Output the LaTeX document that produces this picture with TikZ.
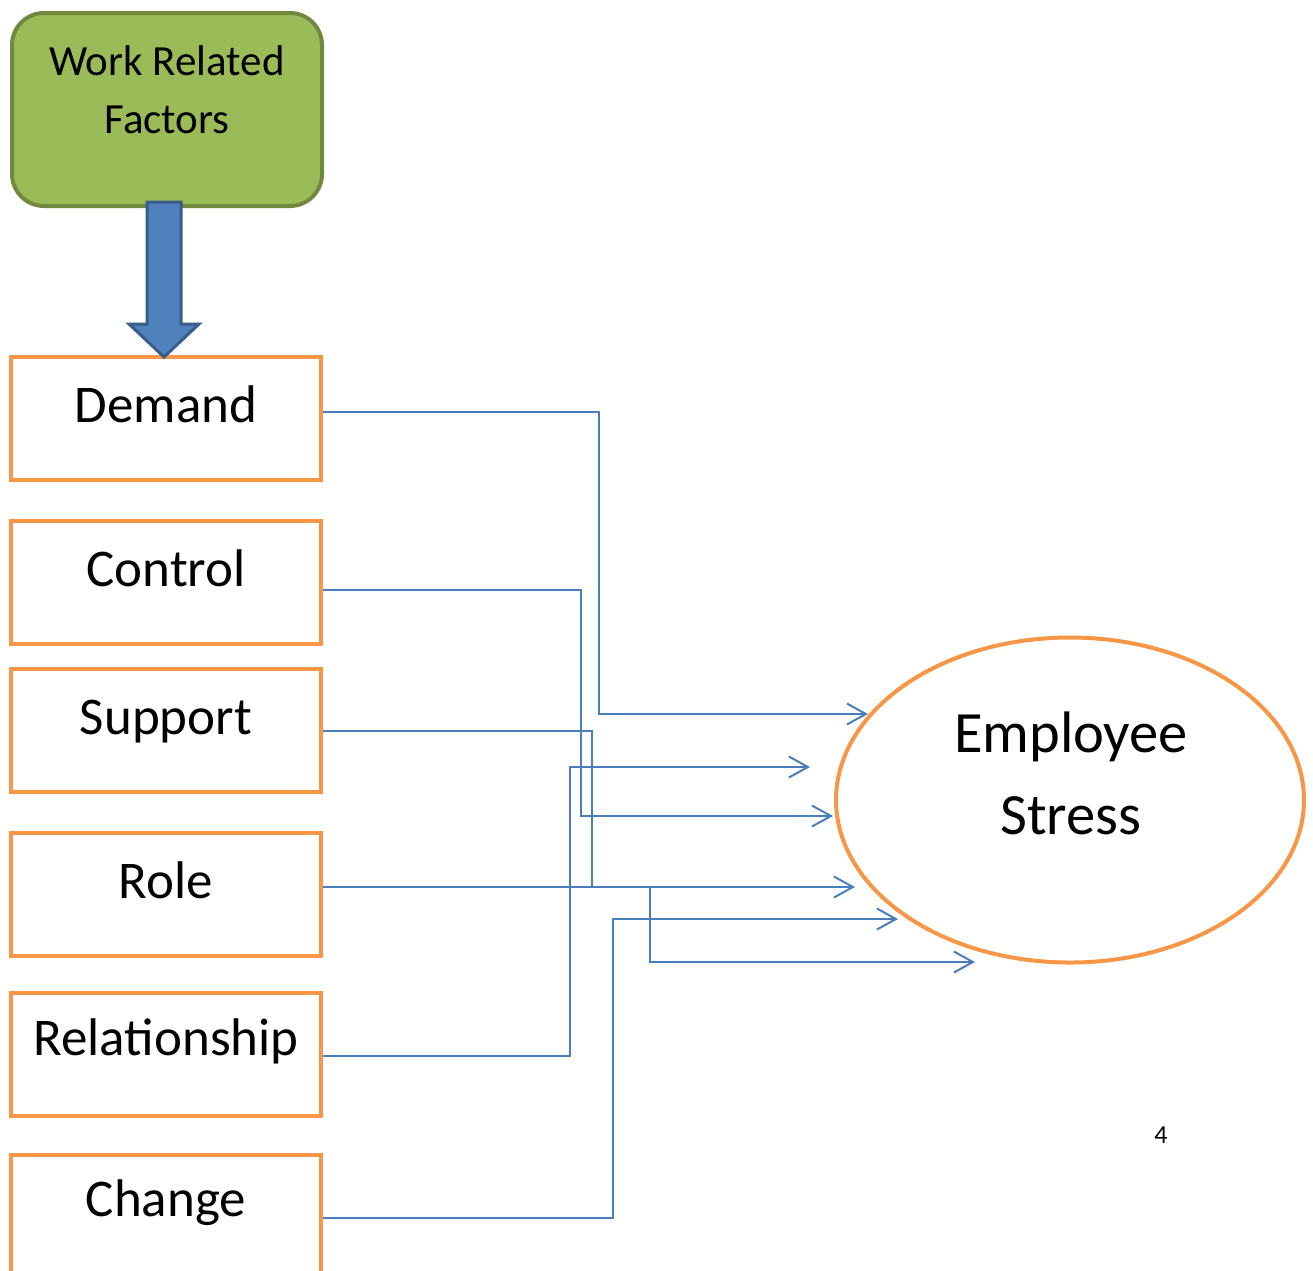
\documentclass[tikz,border=0pt]{standalone}
\usepackage{fontspec}
\setmainfont{Carlito}
\usetikzlibrary{arrows.meta,shapes.geometric}
\definecolor{boxorange}{HTML}{F79646}
\definecolor{linkblue}{HTML}{4A7EBB}
\definecolor{leafgreen}{HTML}{9BBB59}
\definecolor{leafedge}{HTML}{71893F}
\definecolor{arrowfill}{HTML}{4F81BD}
\definecolor{arrowedge}{HTML}{385D8A}
\begin{document}
\begin{tikzpicture}[x=1pt,y=-1pt,
  factorbox/.style={draw=boxorange, line width=4pt, fill=white, rectangle,
    minimum width=310pt, minimum height=123pt, inner sep=0pt},
  factortext/.style={anchor=base, inner sep=0pt, font=\fontsize{53}{64}\selectfont},
  headbox/.style={draw=leafedge, fill=leafgreen, line width=4pt, rectangle,
    rounded corners=32pt, minimum width=310pt, minimum height=193pt, inner sep=0pt},
  headtext/.style={anchor=base, inner sep=0pt, align=center,
    font=\fontsize{43}{58}\selectfont},
  outcome/.style={draw=boxorange, line width=4pt, ellipse,
    minimum width=468pt, minimum height=325pt, inner sep=0pt},
  outtext/.style={anchor=base, inner sep=0pt, align=center,
    font=\fontsize{58.5}{82}\selectfont},
  link/.style={draw=linkblue, line width=2pt,
    -{Straight Barb[length=19pt,width=21pt,line width=2pt]}},
  bigarrow/.style={draw=arrowedge, fill=arrowfill, line width=3pt, line join=miter}
]
\useasboundingbox (0,0) rectangle (1313,1270);

% source of the factors
\node[headbox] (wrf) at (167,109.5) {};
\node[headtext] (wrfT) at (167,133) {Work Related\\Factors};

% the six work related factors
\node[factorbox] (demand)  at (166,418.5)  {};
\node[factorbox] (control) at (166,582.5)  {};
\node[factorbox] (support) at (166,730.5)  {};
\node[factorbox] (role)    at (166,894.5)  {};
\node[factorbox] (relship) at (166,1054.5) {};
\node[factorbox] (change)  at (166,1216)   {};

\node[factortext] (demandT)  at (166,422)  {Demand};
\node[factortext] (controlT) at (166,586)  {Control};
\node[factortext] (supportT) at (166,734)  {Support};
\node[factortext] (roleT)    at (166,898)  {Role};
\node[factortext] (relshipT) at (166,1055) {Relationship};
\node[factortext] (changeT)  at (166,1216) {Change};

% block arrow from the heading box down to the first factor
\coordinate (tip) at ([xshift=-2pt,yshift=-2pt]demand.north);
\draw[bigarrow] (tip) -- ++(-35,-33) -- ++(18,0) -- ++(0,-122) -- ++(34,0)
  -- ++(0,122) -- ++(18,0) -- cycle;

% outcome
\node[outcome] (stress) at (1070,800) {};
\node[outtext] (stressT) at (1071,834) {Employee\\Stress};

\node[anchor=base, inner sep=0pt, font=\fontsize{26}{30}\selectfont] (pagenum) at (1161,1143) {4};

% arrow ends near the outcome
\coordinate (eDemand)  at (868,714);
\coordinate (eControl) at (833,816);
\coordinate (eSupport) at (975,962);
\coordinate (eRole)    at (855,887);
\coordinate (eRelship) at (810,767);
\coordinate (eChange)  at (898,919);

% connectors
\draw[link] ([yshift=6.5pt]demand.east) -- ++(276,0) |- (eDemand);
\draw[link] ([yshift=-7.5pt]control.east) -- ++(258,0) |- (eControl);
\draw[link] (support.east) -- ++(269,0) |- (650,887) |- (eSupport);
\draw[link] ([yshift=7.5pt]role.east) -- (eRole);
\draw[link] ([yshift=-1.5pt]relship.east) -- ++(247,0) |- (eRelship);
\draw[link] ([yshift=-2pt]change.east) -- ++(290,0) |- (eChange);
\end{tikzpicture}
\end{document}
